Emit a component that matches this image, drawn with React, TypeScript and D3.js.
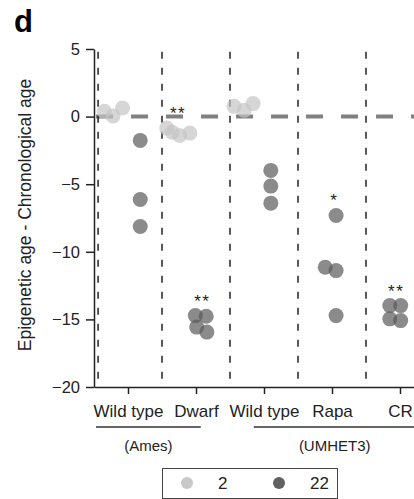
import React, { useEffect, useRef } from "react";
import * as d3 from "d3";

// Treatment groups along the x axis
const groups = ["Wild type", "Dwarf", "Wild type", "Rapa", "CR"];

// Strain brackets below the group labels (spans in group-index units)
const strainNames = ["(Ames)", "(UMHET3)"];
const strainStart = [-0.47, 1.85];
const strainEnd = [1.07, 4.23];

// Ages (months) shown in the legend
const ages = [2, 22];

// Individual animals: group index, age, epigenetic minus chronological age,
// and horizontal jitter within the group (group-index units)
const pointGroup = [0, 0, 0, 0, 0, 0, 1, 1, 1, 1, 1, 1, 1, 1, 2, 2, 2, 2, 2, 2, 3, 3, 3, 3, 4, 4, 4, 4];
const pointAge = [2, 2, 2, 22, 22, 22, 2, 2, 2, 2, 22, 22, 22, 22, 2, 2, 2, 22, 22, 22, 22, 22, 22, 22, 22, 22, 22, 22];
const pointValue = [
  0.39, 0.04, 0.64, -1.76, -6.13, -8.13,
  -0.85, -1.15, -1.39, -1.22, -14.72, -14.77, -15.57, -15.94,
  0.76, 0.47, 0.96, -3.98, -5.14, -6.4,
  -7.31, -11.14, -11.39, -14.72,
  -13.98, -13.98, -14.96, -15.09,
];
const pointJitter = [
  -0.35, -0.22, -0.08, 0.18, 0.18, 0.18,
  -0.43, -0.35, -0.24, -0.09, -0.01, 0.15, 0.01, 0.16,
  -0.44, -0.29, -0.16, 0.1, 0.1, 0.1,
  0.06, -0.1, 0.06, 0.06,
  -0.15, 0.01, -0.15, 0.01,
];

// Significance marks per group/age
const sigGroup = [1, 1, 3, 4];
const sigAge = [2, 22, 22, 22];
const sigMark = ["**", "**", "*", "**"];

// Y axis ticks and group separators
const yTicks = [5, 0, -5, -10, -15, -20];
const separators = [-0.44, 0.5, 1.5, 2.5, 3.5];

const W = 414;
const H = 499;
const FONT = "'Liberation Sans', Arial, Helvetica, sans-serif";

const ageFill: Record<number, string> = { 2: "#c4c4c4", 22: "#5a5a5a" };
const legendFill: Record<number, string> = { 2: "#c8c8c8", 22: "#606060" };

export default function App() {
  const yAxisRef = useRef<SVGGElement>(null);
  const xAxisRef = useRef<SVGGElement>(null);

  const x = d3.scaleLinear().domain([-0.5, 4.5]).range([94, 434]);
  const y = d3.scaleLinear().domain([-20, 5]).range([387, 49]);

  useEffect(() => {
    const ya = d3
      .axisLeft(y)
      .tickValues(yTicks)
      .tickSize(8)
      .tickSizeOuter(0)
      .tickPadding(6);
    const gy = d3.select(yAxisRef.current!);
    gy.call(ya as any);
    gy.selectAll("path").attr("stroke", "#222").attr("stroke-width", 1.5);
    gy.selectAll("line").attr("stroke", "#222").attr("stroke-width", 1.5);
    gy.selectAll("text")
      .attr("font-family", FONT)
      .attr("font-size", 16.5)
      .attr("fill", "#222");

    const xa = d3
      .axisBottom(x)
      .tickValues(d3.range(groups.length))
      .tickFormat((d) => groups[d as number])
      .tickSize(7)
      .tickSizeOuter(0)
      .tickPadding(11);
    const gx = d3.select(xAxisRef.current!);
    gx.call(xa as any);
    gx.selectAll("path").attr("stroke", "#222").attr("stroke-width", 1.5);
    gx.selectAll("line").attr("stroke", "#222").attr("stroke-width", 1.5);
    gx.selectAll("text")
      .attr("font-family", FONT)
      .attr("font-size", 17)
      .attr("fill", "#222");
  }, []);

  const points = pointValue.map((v, i) => ({
    g: pointGroup[i],
    age: pointAge[i],
    v,
    cx: x(pointGroup[i] + pointJitter[i]),
    cy: y(v),
  }));

  const marks = sigMark.map((m, k) => {
    const sel = points.filter((p) => p.g === sigGroup[k] && p.age === sigAge[k]);
    const mx = d3.mean(sel, (p) => p.cx)!;
    const top = d3.min(sel, (p) => p.cy)!;
    return { m, x: mx, y: top - 19 };
  });

  return (
    <svg
      width={W}
      height={H}
      viewBox={`0 0 ${W} ${H}`}
      style={{ position: "absolute", left: 0, top: 0, background: "#fff" }}
    >
      <text x={14} y={32} fontFamily={FONT} fontWeight="bold" fontSize={31} fill="#000">
        d
      </text>

      {/* zero reference */}
      <line
        x1={x(-0.47)}
        x2={x(4.5)}
        y1={y(0)}
        y2={y(0)}
        stroke="#808080"
        strokeWidth={4}
        strokeDasharray="17,18"
      />

      {/* group separators */}
      {separators.map((s, i) => (
        <line
          key={i}
          x1={x(s)}
          x2={x(s)}
          y1={y(4.8)}
          y2={y(-19.85)}
          stroke="#222"
          strokeWidth={1.5}
          strokeDasharray="7,9"
        />
      ))}

      {/* animals */}
      {points.map((p, i) => (
        <circle key={i} cx={p.cx} cy={p.cy} r={7.5} fill={ageFill[p.age]} fillOpacity={0.7} />
      ))}

      {marks.map((s, i) => (
        <text
          key={i}
          x={s.x + 1}
          y={s.y + 10}
          textAnchor="middle"
          fontFamily={FONT}
          fontSize={17}
          letterSpacing={1.5}
          fill="#222"
        >
          {s.m}
        </text>
      ))}

      <g ref={yAxisRef} transform={`translate(${x(-0.5)},0)`} />
      <g ref={xAxisRef} transform={`translate(0,${y(-20)})`} />

      <text
        transform={`translate(31,${(y(5) + y(-20)) / 2 - 3}) rotate(-90)`}
        textAnchor="middle"
        fontFamily={FONT}
        fontSize={17.5}
        fill="#222"
      >
        Epigenetic age - Chronological age
      </text>

      {/* strain brackets */}
      {strainNames.map((n, i) => (
        <g key={n}>
          <line
            x1={x(strainStart[i])}
            x2={x(strainEnd[i])}
            y1={427}
            y2={427}
            stroke="#333"
            strokeWidth={1.3}
          />
          <text
            x={x((strainStart[i] + strainEnd[i]) / 2)}
            y={451}
            textAnchor="middle"
            fontFamily={FONT}
            fontSize={15}
            fill="#222"
          >
            {n}
          </text>
        </g>
      ))}

      {/* legend */}
      <rect x={162.5} y={468.5} width={175} height={30} fill="#fff" stroke="#444" strokeWidth={1} />
      {ages.map((a, i) => (
        <g key={a} transform={`translate(${187 + i * 92},483)`}>
          <circle r={6} fill={legendFill[a]} />
          <text x={31} y={6} fontFamily={FONT} fontSize={17} fill="#222">
            {a}
          </text>
        </g>
      ))}
    </svg>
  );
}
